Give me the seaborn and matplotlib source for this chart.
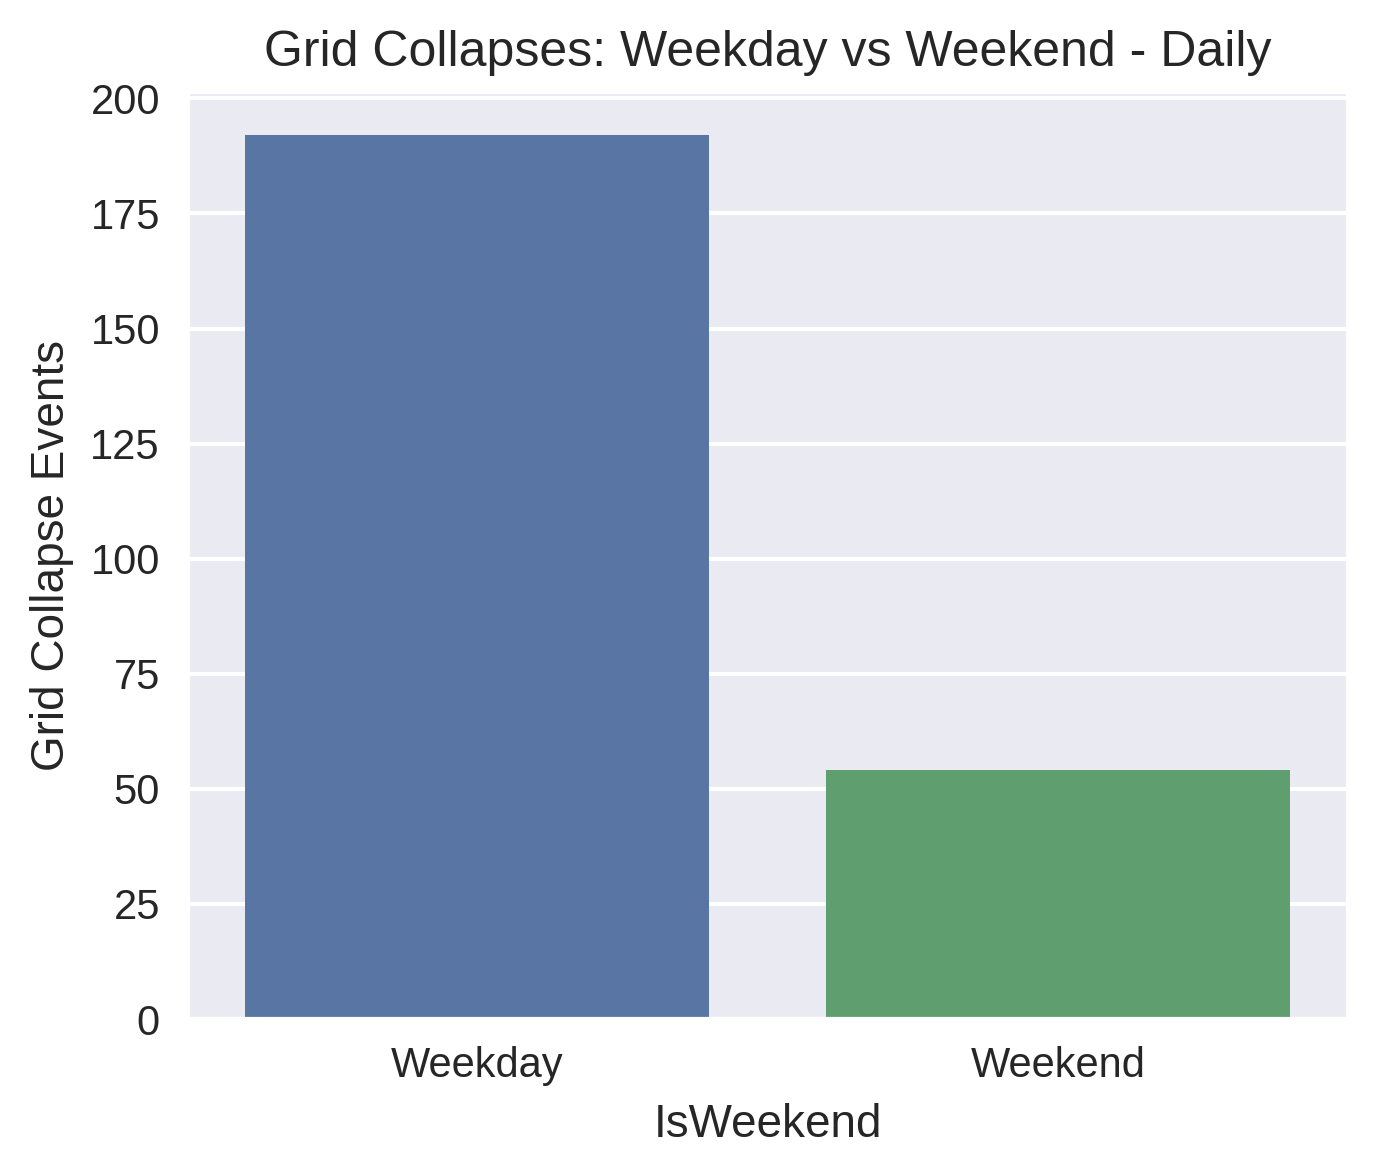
import matplotlib
matplotlib.use("Agg")
import matplotlib.pyplot as plt
import seaborn as sns
import pandas as pd

categories = ["Weekday", "Weekend"]
values = [192, 54]

sns.set_theme(style="darkgrid")
plt.rcParams['font.family'] = ['Liberation Sans', 'DejaVu Sans']

df = pd.DataFrame({"IsWeekend": categories, "Events": values})
fig, ax = plt.subplots(figsize=(4.597, 3.9), dpi=300)
sns.barplot(data=df, x="IsWeekend", y="Events", hue="IsWeekend",
            palette=["#4c72b0", "#55a868"], ax=ax, legend=False, linewidth=0)
ax.set_title("Grid Collapses: Weekday vs Weekend - Daily", fontsize=12)
ax.set_xlabel("IsWeekend", fontsize=11)
ax.set_ylabel("Grid Collapse Events", fontsize=11)
ax.tick_params(labelsize=10, length=3)
fig.subplots_adjust(left=0.1356, right=0.9775, top=0.9222, bottom=0.129)
fig.savefig("out.png", dpi=300)
